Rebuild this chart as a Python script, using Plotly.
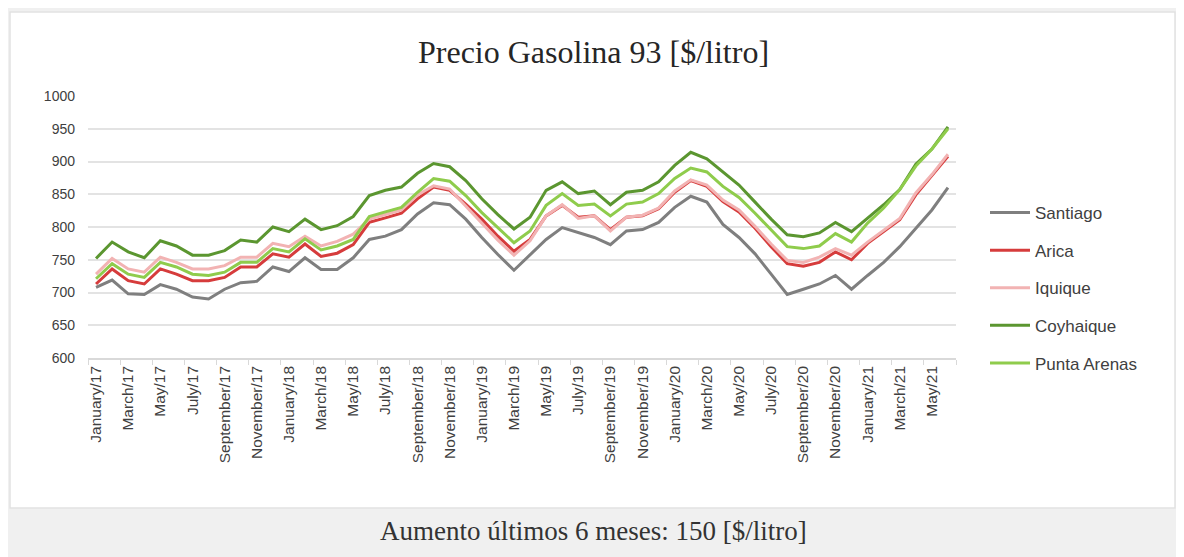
import plotly.graph_objects as go

months = ["January", "February", "March", "April", "May", "June", "July",
          "August", "September", "October", "November", "December"]
categories = []
for yr in range(17, 22):
    for m in months:
        categories.append(f"{m}/{yr}")
categories = categories[:54]  # January/17 .. June/21

santiago = [708, 719, 698, 697, 712, 705, 693, 690, 705, 715, 717, 739,
            732, 753, 735, 735, 753, 781, 786, 796, 820, 837, 834, 812,
            784, 758, 734, 758, 781, 799, 791, 784, 773, 794, 796, 807,
            830, 847, 838, 804, 784, 759, 728, 697, 705, 713, 726, 705,
            726, 746, 770, 798, 826, 860]
arica = [713, 736, 718, 713, 736, 728, 718, 718, 723, 739, 739, 759,
         754, 774, 755, 760, 773, 807, 814, 821, 843, 861, 856, 835,
         812, 786, 763, 781, 817, 833, 815, 817, 796, 815, 817, 828,
         853, 871, 862, 839, 823, 798, 770, 744, 740, 746, 762, 750,
         775, 793, 811, 849, 878, 908]
iquique = [728, 752, 736, 731, 754, 746, 736, 736, 741, 754, 754, 775,
           770, 786, 771, 778, 789, 812, 819, 826, 849, 863, 858, 832,
           806, 780, 757, 779, 817, 834, 813, 817, 794, 815, 818, 829,
           855, 872, 864, 841, 826, 801, 774, 749, 746, 754, 767, 757,
           777, 795, 813, 852, 880, 911]
coyhaique = [752, 777, 762, 753, 779, 771, 757, 757, 764, 780, 777, 800,
             793, 812, 796, 802, 816, 848, 856, 861, 882, 897, 892, 871,
             843, 819, 797, 815, 856, 869, 851, 855, 834, 853, 856, 869,
             894, 914, 904, 884, 864, 838, 812, 788, 785, 791, 807, 793,
             813, 834, 857, 896, 919, 953]
punta_arenas = [721, 744, 728, 723, 746, 739, 728, 726, 731, 746, 746, 767,
                762, 782, 765, 771, 781, 816, 823, 830, 853, 874, 870, 848,
                822, 799, 776, 794, 833, 851, 833, 835, 817, 835, 838, 851,
                874, 890, 884, 862, 845, 821, 795, 770, 767, 771, 790, 777,
                806, 829, 857, 893, 919, 950]

series_names = ["Santiago", "Arica", "Iquique", "Coyhaique", "Punta Arenas"]
series_values = [santiago, arica, iquique, coyhaique, punta_arenas]
series_colors = ["#7f7f7f", "#d63c3c", "#f2b3b3", "#5b9630", "#8fcc4c"]

y_ticks = [600, 650, 700, 750, 800, 850, 900, 950, 1000]

x_idx = list(range(len(categories)))
tick_idx = x_idx[::2]
tick_text = [categories[i] for i in tick_idx]

fig = go.Figure()
for k in range(len(series_names)):
    fig.add_trace(go.Scatter(
        x=x_idx, y=series_values[k], mode="lines", name=series_names[k],
        line=dict(color=series_colors[k], width=3),
        legendgroup=series_names[k],
    ))

OFF = 8  # page body margin
W, H = 1184, 557
L, R = 88 - OFF, W - (956 - OFF)
T, B = 96 - OFF, H - (358 - OFF)
pw, ph = W - L - R, H - T - B

def px_x(p):
    return (p - OFF - L) / pw

def px_y(p):
    return (H - B - (p - OFF)) / ph

fig.add_shape(type="rect", xref="paper", yref="paper",
              x0=px_x(10), x1=px_x(1175), y0=px_y(508), y1=px_y(12),
              fillcolor="white", line=dict(color="#e2e2e2", width=1.5),
              layer="below")

fig.update_layout(
    width=W, height=H,
    margin=dict(l=L, r=R, t=T, b=B),
    paper_bgcolor="#f0f0f0",
    plot_bgcolor="rgba(0,0,0,0)",
    font=dict(family="Liberation Sans, Arial, sans-serif", color="#404040"),
    showlegend=True,
    legend=dict(x=px_x(985), y=px_y(195), xanchor="left", yanchor="top",
                font=dict(size=17, color="#404040"),
                tracegroupgap=12.5, bgcolor="rgba(0,0,0,0)",
                itemwidth=40),
    annotations=[
        dict(text="Precio Gasolina 93 [$/litro]", xref="paper", yref="paper",
             x=px_x(593), y=px_y(52), xanchor="center", yanchor="middle",
             showarrow=False,
             font=dict(family="Liberation Serif, serif", size=32, color="#262626")),
        dict(text="Aumento últimos 6 meses: 150 [$/litro]", xref="paper", yref="paper",
             x=px_x(593), y=px_y(531), xanchor="center", yanchor="middle",
             showarrow=False,
             font=dict(family="Liberation Serif, serif", size=27, color="#333333")),
    ],
)

fig.update_xaxes(
    range=[-0.5, len(categories) - 0.5],
    tickmode="array", tickvals=tick_idx, ticktext=tick_text,
    tickangle=-90, tickfont=dict(size=15.5, color="#404040"),
    showgrid=False, zeroline=False,
    showline=True, linecolor="#d9d9d9", linewidth=1.5,
    ticks="",
    minor=dict(tickmode="array",
               tickvals=[i - 0.5 for i in range(0, len(categories) + 1, 2)],
               ticks="outside", ticklen=5, tickcolor="#d9d9d9", showgrid=False),
)
fig.update_yaxes(
    range=[600, 1000], tickmode="array", tickvals=y_ticks,
    tickfont=dict(size=14, color="#404040"),
    showgrid=True, gridcolor="#e3e3e3", gridwidth=1.5,
    zeroline=False, showline=False, ticks="", ticklabelstandoff=12,
)

fig.write_html("out.html")
